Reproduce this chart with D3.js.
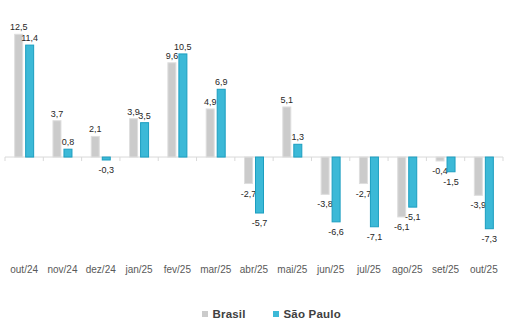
<!DOCTYPE html>
<html><head><meta charset="utf-8">
<script src="https://cdn.jsdelivr.net/npm/d3@7"></script>
<style>html,body{margin:0;padding:0;background:#fff;}svg{display:block;}</style>
</head><body>
<svg id="chart" width="512" height="326"></svg>
<script>
const categories = ["out/24","nov/24","dez/24","jan/25","fev/25","mar/25","abr/25","mai/25","jun/25","jul/25","ago/25","set/25","out/25"];
const brasil = [12.5, 3.7, 2.1, 3.9, 9.6, 4.9, -2.7, 5.1, -3.8, -2.7, -6.1, -0.4, -3.9];
const saoPaulo = [11.4, 0.8, -0.3, 3.5, 10.5, 6.9, -5.7, 1.3, -6.6, -7.1, -5.1, -1.5, -7.3];
const seriesNames = ["Brasil", "São Paulo"];

const svg = d3.select("#chart");
const font = "'Liberation Sans', Arial, sans-serif";
const colors = {fill: ["#cbcbcb", "#3cb9d7"], stroke: ["#dedede", "#1c9ec0"]};

const x = d3.scaleBand().domain(categories).range([5, 503]).padding(0);
const y = d3.scaleLinear().domain([-8, 12.5]).range([235.6, 34.3]);
const barW = 9, gap = 2;

const series = [brasil, saoPaulo];
const fmt = v => d3.format(".1f")(v).replace(".", ",").replace("\u2212", "-");

// axis line at zero
svg.append("line").attr("x1", 5).attr("x2", 503).attr("y1", y(0)).attr("y2", y(0))
  .attr("stroke", "#d9d9d9").attr("stroke-width", 1);
// tick marks between categories
const bounds = categories.map(c => x(c)).concat([x(categories[categories.length-1]) + x.bandwidth()]);
svg.selectAll("line.tick").data(bounds).enter().append("line")
  .attr("x1", d => d).attr("x2", d => d).attr("y1", y(0)).attr("y2", y(0) + 4)
  .attr("stroke", "#d9d9d9").attr("stroke-width", 1);

series.forEach((vals, si) => {
  const off = si === 0 ? -(barW + gap/2) : gap/2;
  const g = svg.append("g");
  g.selectAll("rect").data(vals).enter().append("rect")
    .attr("x", (d, i) => x(categories[i]) + x.bandwidth()/2 + off + 0.5)
    .attr("y", d => Math.min(y(d), y(0)))
    .attr("width", barW - 1)
    .attr("height", d => Math.abs(y(d) - y(0)))
    .attr("fill", colors.fill[si])
    .attr("stroke", colors.stroke[si]).attr("stroke-width", 1);
  g.selectAll("text").data(vals).enter().append("text")
    .attr("x", (d, i) => x(categories[i]) + x.bandwidth()/2 + off + barW/2)
    .attr("y", d => d >= 0 ? y(d) - 4 : y(d) + 13)
    .attr("text-anchor", "middle")
    .attr("font-family", font).attr("font-size", 9).attr("fill", "#262626")
    .text(d => fmt(d));
});

// category labels
svg.selectAll("text.cat").data(categories).enter().append("text")
  .attr("x", d => x(d) + x.bandwidth()/2)
  .attr("y", 273)
  .attr("text-anchor", "middle")
  .attr("font-family", font).attr("font-size", 10).attr("fill", "#595959")
  .text(d => d);

// legend
const legendX = [202, 273];
seriesNames.forEach((name, si) => {
  svg.append("rect").attr("x", legendX[si]).attr("y", 311).attr("width", 6).attr("height", 6)
    .attr("fill", colors.fill[si]);
  svg.append("text").attr("x", legendX[si] + 10.5).attr("y", 317.5)
    .attr("font-family", font).attr("font-size", 11.5).attr("font-weight", "bold")
    .attr("fill", "#404040").attr("letter-spacing", 0.2).text(name);
});
</script>
</body></html>
